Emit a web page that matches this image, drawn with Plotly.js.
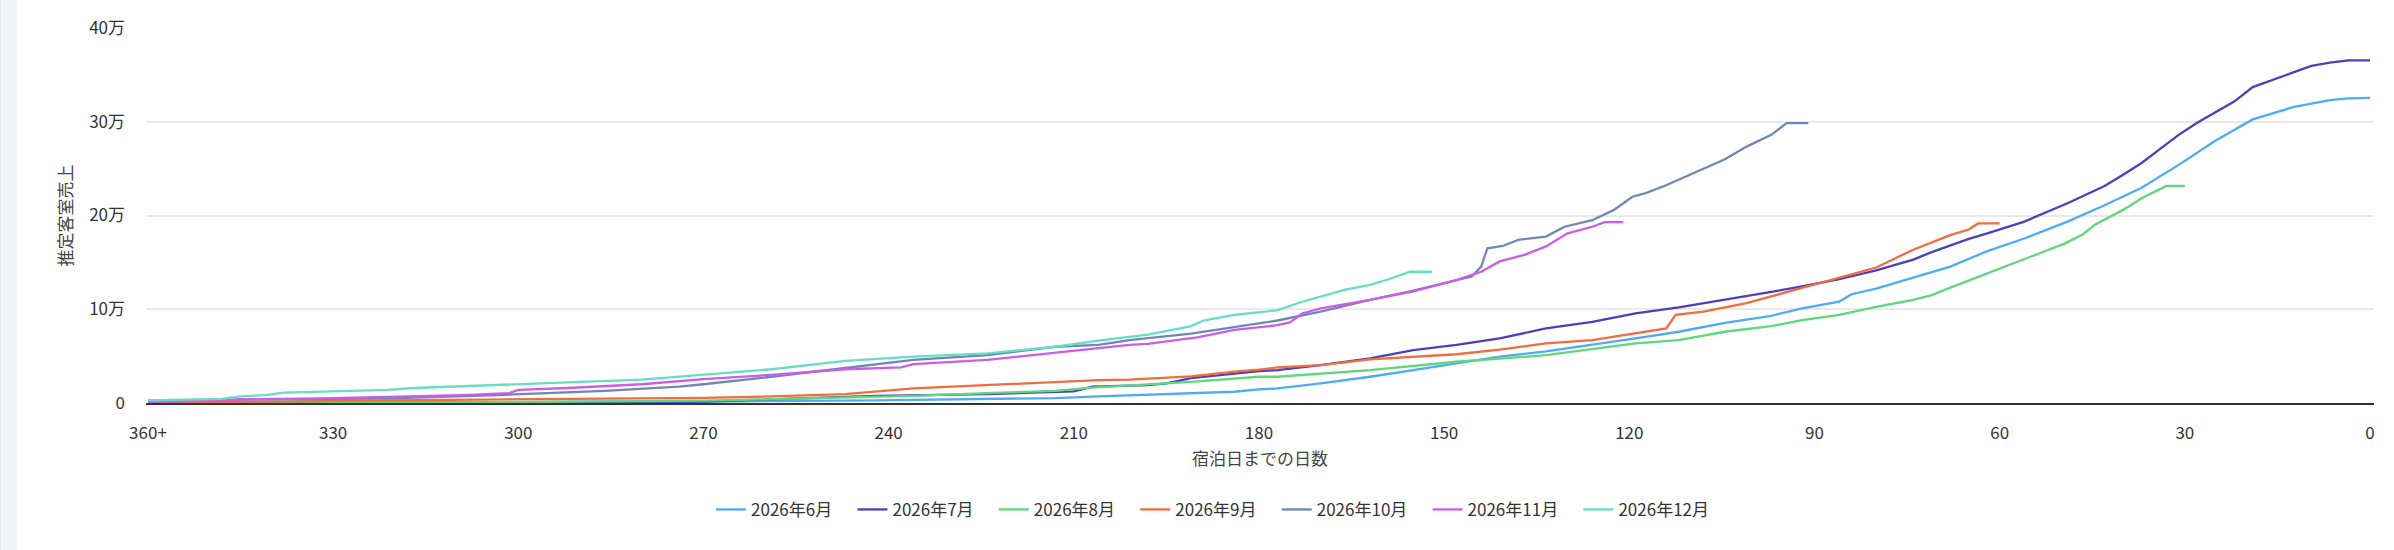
<!DOCTYPE html>
<html>
<head>
<meta charset="utf-8">
<script src="https://cdn.plot.ly/plotly-3.0.1.min.js"></script>
<style>
  html, body { margin: 0; padding: 0; background: #fff; }
  #side { position: absolute; left: 0; top: 0; width: 17px; height: 550px; background: #f3f4f6; border-left: 1px solid #e3e6ea; box-sizing: border-box; }
  #chart { position: absolute; left: 17px; top: 0; width: 2377px; height: 550px; }
</style>
</head>
<body>
<div id="side"></div>
<div id="chart"></div>
<script>
  // days before stay (360 = "360+") and cumulative estimated room revenue (yen)
  const months = ['2026年6月', '2026年7月', '2026年8月', '2026年9月', '2026年10月', '2026年11月', '2026年12月'];

  const junDays = [360, 300, 270, 242, 224, 213, 206, 195, 191, 184, 180, 177, 170, 162, 155, 148, 141, 133.5, 126, 119, 112, 104.5, 97, 92, 86, 84, 80, 74, 68, 62, 56, 49, 43, 37, 31, 25, 19, 12.5, 6.5, 3.5, 0];
  const junVals = [0, 500, 1500, 2800, 4300, 5300, 7000, 9500, 10000, 12000, 14500, 15500, 21000, 28000, 35000, 42500, 49500, 55000, 62000, 69000, 76000, 85500, 93000, 101000, 108000, 116000, 122000, 133500, 145500, 162000, 175500, 193500, 211000, 229500, 254000, 280000, 302500, 315500, 323000, 325000, 325500];

  const julDays = [360, 300, 270, 242, 224, 210, 207, 198, 195, 192.5, 191, 180, 177, 170, 162, 155, 148, 141, 133.5, 126, 119, 112, 104.5, 97, 92, 86, 80, 74, 71, 68, 65, 62, 56, 49, 43, 40, 37, 34, 31, 28, 25, 22, 19, 15.5, 12.5, 9.5, 6.5, 3.5, 0];
  const julVals = [0, 500, 1500, 7500, 9500, 12500, 17500, 19000, 21000, 24500, 26500, 34000, 35000, 40500, 47500, 56500, 62000, 69000, 79500, 86500, 95500, 102000, 110000, 118500, 124500, 132000, 141500, 153000, 161000, 168000, 175000, 181000, 193500, 213000, 231500, 243500, 256000, 271000, 286000, 299000, 310000, 321500, 337000, 345500, 353000, 359500, 363000, 365500, 365500];

  const augDays = [360, 300, 270, 247, 236, 224, 213, 207, 195, 191, 180, 177, 162, 148, 133.5, 119, 112, 104.5, 97, 92, 86, 80, 74, 71, 68, 62, 56, 49.5, 46.5, 44.5, 40, 37, 33, 30];
  const augVals = [0, 1000, 2500, 6000, 7500, 10500, 13000, 16500, 21000, 22500, 28000, 28000, 35000, 44000, 51000, 63500, 67000, 76000, 82000, 88500, 94000, 102500, 110000, 115000, 123000, 138000, 153000, 170000, 180000, 190500, 206000, 218500, 231500, 231500];

  const sepDays = [360, 345, 326, 303, 286, 270, 259, 247, 236, 224, 213, 206, 201, 191, 184, 180, 177, 170, 162, 155, 148, 141, 133.5, 126, 119, 114, 112.5, 108, 101, 92, 86, 80, 74, 68, 65, 63.5, 60];
  const sepVals = [500, 1000, 2500, 3500, 4500, 5500, 7000, 9500, 15500, 19000, 23000, 24500, 25000, 28500, 33500, 35500, 38000, 40500, 46500, 49000, 52000, 57000, 63500, 67000, 74000, 79500, 94000, 97500, 106500, 123000, 134000, 144500, 163500, 179000, 185000, 191500, 191500];

  const octDays = [360, 344, 321, 303, 286, 274, 270, 259, 247, 236, 224, 213, 206, 201, 191, 180, 177, 170, 162, 155, 148, 145.5, 144, 143, 140.5, 138, 133.5, 130.5, 126, 122.5, 119.5, 117.5, 114.5, 111.5, 108, 104.5, 101, 97, 94.5, 91];
  const octVals = [2500, 3500, 5000, 8500, 13000, 17500, 20000, 28000, 37000, 46000, 51000, 60000, 62000, 67000, 74000, 85500, 88000, 97500, 110000, 120000, 131500, 135000, 145500, 165000, 167500, 174000, 177500, 188000, 195000, 206000, 220000, 223500, 231000, 239500, 250000, 260000, 273500, 286000, 298500, 298500];

  const novDays = [360, 348, 345, 332, 309, 301.5, 300, 292, 280, 272, 270, 259, 247, 238, 236, 224, 213, 206, 201, 198, 190, 184, 177, 175, 173, 170, 162, 155, 148, 144, 141, 137, 133.5, 130, 126, 124, 121];
  const novVals = [1000, 2500, 4000, 5000, 8500, 10500, 14000, 16000, 20000, 24000, 25500, 30000, 36000, 38000, 41500, 46000, 53500, 58500, 62000, 63000, 70000, 78000, 83000, 86000, 95500, 101000, 110000, 119000, 131000, 140000, 151000, 158000, 167000, 181000, 188000, 193000, 193000];

  const decDays = [360, 348, 345, 341, 338, 321, 317, 303, 292, 280, 274, 270, 259, 247, 236, 224, 213, 206, 201, 198, 191, 189, 184, 177, 173, 170, 166, 162, 159, 155.5, 152];
  const decVals = [2800, 4300, 7000, 8500, 11000, 14000, 16000, 19000, 22000, 25000, 28000, 30000, 36000, 45000, 49500, 53000, 60000, 66500, 71000, 73000, 82000, 88000, 94000, 99000, 108000, 113500, 121000, 126000, 132000, 140000, 140000];

  const seriesDays = [junDays, julDays, augDays, sepDays, octDays, novDays, decDays];
  const seriesVals = [junVals, julVals, augVals, sepVals, octVals, novVals, decVals];

  const xTickVals = [360, 330, 300, 270, 240, 210, 180, 150, 120, 90, 60, 30, 0];
  const xTickText = ['360+', '330', '300', '270', '240', '210', '180', '150', '120', '90', '60', '30', '0'];
  const yTickVals = [0, 100000, 200000, 300000, 400000];
  const yTickText = ['0', '10万', '20万', '30万', '40万'];

  const colors = ['#4dabf7', '#4c3fbf', '#5fd77a', '#f26d3d', '#6f86b6', '#cc5de8', '#66dec4'];

  const FONT = '"Noto Sans CJK JP", "Noto Sans", sans-serif';
  // extra room after each legend label, plotly has no item gap setting
  const LEGEND_PAD = '\u00a0\u00a0\u00a0\u00a0';

  let data = [];
  for (let i = 0; i < months.length; i++) {
    data.push({
      x: seriesDays[i],
      y: seriesVals[i],
      name: months[i] + LEGEND_PAD,
      mode: 'lines',
      type: 'scatter',
      line: { color: colors[i], width: 2.3 },
      hovertemplate: '%{x}日前: %{y:,}<extra>' + months[i] + '</extra>'
    });
  }

  const layout = {
    width: 2377,
    height: 550,
    margin: { l: 129, r: 20, t: 28, b: 147 },
    paper_bgcolor: '#ffffff',
    plot_bgcolor: '#ffffff',
    font: { family: FONT, size: 17, color: '#333333' },
    showlegend: true,
    legend: {
      orientation: 'h',
      x: 0.2536,
      xanchor: 'left',
      y: -0.285,
      yanchor: 'middle',
      font: { family: FONT, size: 17, color: '#333333' },
      itemwidth: 30,
      traceorder: 'normal'
    },
    xaxis: {
      range: [360.32, -0.65],
      tickvals: xTickVals,
      ticktext: xTickText,
      showgrid: false,
      zeroline: false,
      showline: true,
      linecolor: '#333333',
      linewidth: 1.5,
      ticks: '',
      ticklabelstandoff: 14,
      tickfont: { family: FONT, size: 17, color: '#333333' },
      title: { text: '宿泊日までの日数', font: { family: FONT, size: 17, color: '#444444' }, standoff: 10 }
    },
    yaxis: {
      range: [0, 400000],
      tickvals: yTickVals,
      ticktext: yTickText,
      showgrid: true,
      gridcolor: '#e9e9e9',
      gridwidth: 1.5,
      zeroline: false,
      ticks: '',
      ticklabelstandoff: 20,
      tickfont: { family: FONT, size: 17, color: '#333333' },
      title: { text: '推定客室売上', font: { family: FONT, size: 17, color: '#444444' }, standoff: 12 }
    }
  };

  Plotly.newPlot('chart', data, layout, { displayModeBar: false, responsive: false });
</script>
</body>
</html>
